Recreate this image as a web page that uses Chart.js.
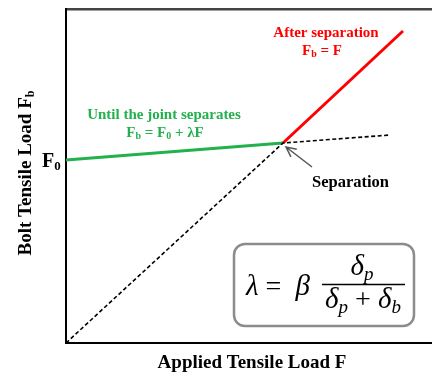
<!DOCTYPE html>
<html>
<head>
<meta charset="utf-8">
<script src="https://cdn.jsdelivr.net/npm/chart.js@4.4.1/dist/chart.umd.min.js"></script>
<style>
  html, body { margin: 0; padding: 0; background: #fff; }
  #wrap { width: 432px; height: 374px; }
</style>
</head>
<body>
<div id="wrap"><canvas id="grafico" width="432" height="374"></canvas></div>
<script>
// axis ranges (arbitrary load units)
const xMax = 366;
const yMax = 334;

// bolt load until separation: Fb = F0 + lambda*F
const untilSepX = [0, 217];
const untilSepY = [183, 200];

// after separation: Fb = F
const afterSepX = [217, 337];
const afterSepY = [200, 312];

// dashed guide lines (Fb = F, and extension of the first branch)
const guideX = [0, 217, 324];
const guideY = [0, 200, 208];

const separation = [217, 200];

const serif = '"Liberation Serif", "Times New Roman", serif';
const green = '#22b14c';

function pts(xs, ys) {
  return xs.map((x, i) => ({ x: x, y: ys[i] }));
}

// draws runs of text with optional subscripts, left to right
function runs(ctx, parts, x, y, align) {
  let total = 0;
  parts.forEach(p => { ctx.font = p.font; total += ctx.measureText(p.t).width; });
  let cx = align === 'center' ? x - total / 2 : x;
  parts.forEach(p => {
    ctx.font = p.font;
    ctx.fillText(p.t, cx, y + (p.dy || 0));
    cx += ctx.measureText(p.t).width;
  });
}

const overlay = {
  id: 'overlay',
  afterDraw(chart) {
    const ctx = chart.ctx;
    const sx = chart.scales.x, sy = chart.scales.y;
    ctx.save();
    ctx.textBaseline = 'alphabetic';
    ctx.textAlign = 'left';

    const b15 = 'bold 15px ' + serif;
    const s10 = 'bold 10px ' + serif;

    // red label
    ctx.fillStyle = '#ff0000';
    runs(ctx, [{ t: 'After separation', font: b15 }], 326, 37, 'center');
    runs(ctx, [{ t: 'F', font: b15 }, { t: 'b', font: s10, dy: 2 }, { t: ' = F', font: b15 }], 322, 55, 'center');

    // green label
    ctx.fillStyle = green;
    runs(ctx, [{ t: 'Until the joint separates', font: b15 }], 164, 119, 'center');
    runs(ctx, [
      { t: 'F', font: b15 }, { t: 'b', font: s10, dy: 2 },
      { t: ' = F', font: b15 }, { t: '0', font: s10, dy: 2 },
      { t: ' + λF', font: b15 }
    ], 165, 137, 'center');

    // F0 tick label
    ctx.fillStyle = '#000';
    runs(ctx, [{ t: 'F', font: 'bold 20px ' + serif }, { t: '0', font: 'bold 13px ' + serif, dy: 3 }], 42, 167, 'left');

    // separation label + arrow
    runs(ctx, [{ t: 'Separation', font: 'bold 16.5px ' + serif }], 312, 187, 'left');
    const tx = sx.getPixelForValue(separation[0]) + 3;
    const ty = sy.getPixelForValue(separation[1]) + 4;
    const fx = 312, fy = 167;
    const ang = Math.atan2(ty - fy, tx - fx);
    ctx.strokeStyle = '#555';
    ctx.lineWidth = 1.5;
    ctx.beginPath();
    ctx.moveTo(fx, fy);
    ctx.lineTo(tx, ty);
    ctx.moveTo(tx - 11 * Math.cos(ang - 0.45), ty - 11 * Math.sin(ang - 0.45));
    ctx.lineTo(tx, ty);
    ctx.lineTo(tx - 11 * Math.cos(ang + 0.45), ty - 11 * Math.sin(ang + 0.45));
    ctx.stroke();

    // axis titles
    const t19 = 'bold 19px ' + serif;
    runs(ctx, [{ t: 'Applied Tensile Load F', font: t19 }], 252, 368, 'center');
    ctx.save();
    ctx.translate(31, 173);
    ctx.rotate(-Math.PI / 2);
    runs(ctx, [{ t: 'Bolt Tensile Load F', font: t19 }, { t: 'b', font: 'bold 12px ' + serif, dy: 3 }], 0, 0, 'center');
    ctx.restore();

    // formula box
    ctx.strokeStyle = '#8c8c8c';
    ctx.lineWidth = 2.5;
    ctx.beginPath();
    ctx.roundRect(234, 244, 180, 82, 11);
    ctx.stroke();

    const it = 'italic 29px ' + serif;
    const up = '28px ' + serif;
    const sub = 'italic 19px ' + serif;
    ctx.fillStyle = '#000';
    runs(ctx, [{ t: 'λ', font: it }, { t: ' = ', font: up }, { t: ' β', font: it }], 246, 295, 'left');
    ctx.strokeStyle = '#000';
    ctx.lineWidth = 1.3;
    ctx.beginPath();
    ctx.moveTo(322, 284.5);
    ctx.lineTo(405, 284.5);
    ctx.stroke();
    runs(ctx, [{ t: 'δ', font: it }, { t: 'p', font: sub, dy: 5 }], 362, 275, 'center');
    runs(ctx, [
      { t: 'δ', font: it }, { t: 'p', font: sub, dy: 5 },
      { t: ' + ', font: up },
      { t: 'δ', font: it }, { t: 'b', font: sub, dy: 5 }
    ], 363, 308, 'center');

    ctx.restore();
  }
};

new Chart(document.getElementById('grafico').getContext('2d'), {
  type: 'scatter',
  data: {
    datasets: [
      {
        label: 'Fb = F (guide)',
        data: pts(guideX, guideY),
        showLine: true,
        borderColor: '#000',
        borderWidth: 1.6,
        borderDash: [4, 2.5],
        pointRadius: 0
      },
      {
        label: 'Until the joint separates',
        data: pts(untilSepX, untilSepY),
        showLine: true,
        borderColor: green,
        borderWidth: 3,
        pointRadius: 0
      },
      {
        label: 'After separation',
        data: pts(afterSepX, afterSepY),
        showLine: true,
        borderColor: '#ff0000',
        borderWidth: 3,
        pointRadius: 0
      }
    ]
  },
  options: {
    responsive: false,
    animation: false,
    layout: { padding: 0 },
    plugins: { legend: { display: false }, tooltip: { enabled: false } },
    scales: {
      x: {
        type: 'linear',
        min: 0, max: xMax,
        grid: { display: false, drawTicks: false },
        ticks: { display: false },
        border: { color: '#000', width: 2 },
        afterFit: s => { s.height = 31; }
      },
      xTop: {
        type: 'linear',
        position: 'top',
        min: 0, max: xMax,
        grid: { display: false, drawTicks: false },
        ticks: { display: false },
        border: { color: '#444', width: 2.5 },
        afterFit: s => { s.height = 9; }
      },
      y: {
        type: 'linear',
        min: 0, max: yMax,
        grid: { display: false, drawTicks: false },
        ticks: { display: false },
        border: { color: '#000', width: 2 },
        afterFit: s => { s.width = 66; }
      }
    }
  },
  plugins: [overlay]
});
</script>
</body>
</html>
